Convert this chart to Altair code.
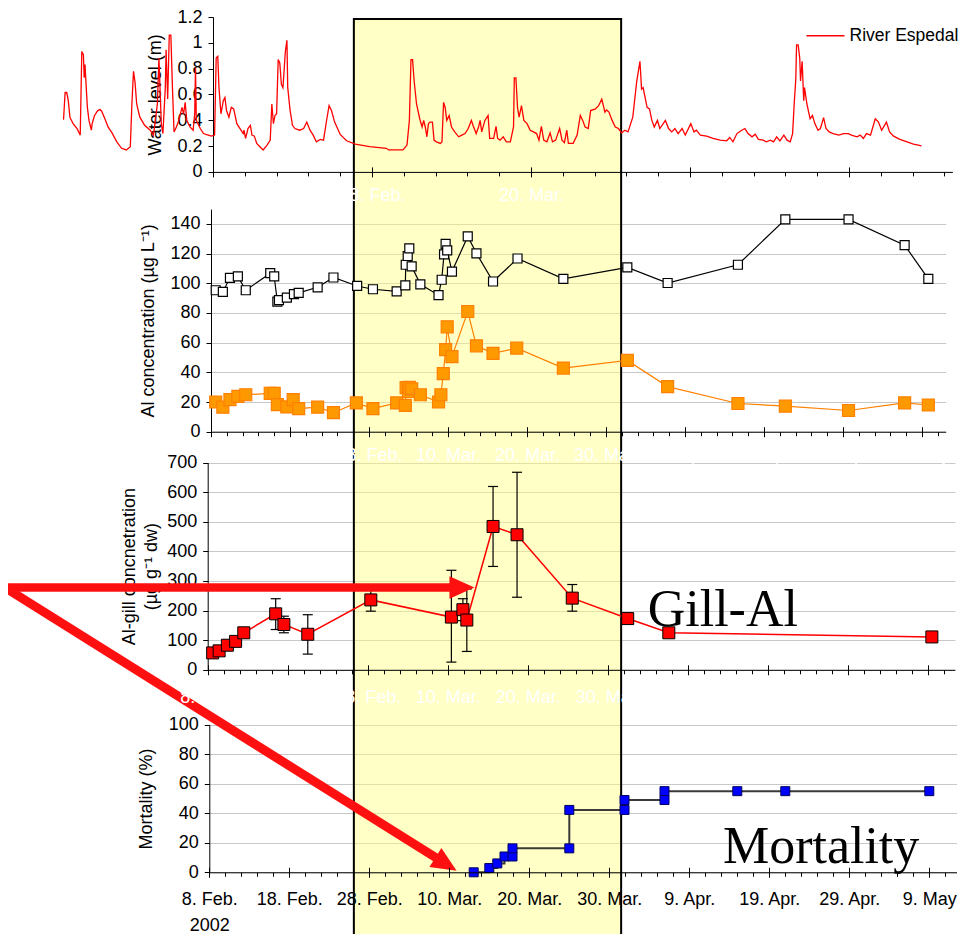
import altair as alt
import pandas as pd

BASE = pd.Timestamp("2002-02-08")
FONT = "Liberation Sans"
SERIF = "Liberation Serif"

# ---------------- data (days after 8 Feb 2002) ----------------
water_days = [
    -18.8, -18.6, -18.4, -18.2, -18.0, -17.6, -17.1, -16.7, -16.5, -16.3, -16.2, -16.1, -16.0, -15.8, -15.6, -15.3,
    -15.2, -14.9, -14.5, -14.2, -14.0, -13.6, -13.2, -12.7, -12.1, -11.5, -10.9, -10.4, -10.2, -10.0, -9.8, -9.6,
    -9.2, -8.6, -7.9, -7.5, -7.3, -7.0, -6.8, -6.5, -6.3, -6.0, -5.9, -5.7, -5.5, -5.3, -5.1, -4.9, -4.6, -4.3,
    -3.9, -3.7, -3.5, -3.3, -2.9, -2.5, -2.3, -2.2, -2.1, -1.6, -1.2, -0.6, -0.2, 0.2, 0.4, 0.6, 0.75, 1.0, 1.3,
    1.5, 1.7, 2.0, 2.3, 2.6, 3.0, 3.4, 3.8, 3.9, 4.1, 4.4, 4.7, 4.9, 5.2, 5.5, 5.9, 6.3, 6.8, 7.2, 7.4, 7.6, 7.8,
    8.0, 8.2, 8.4, 8.6, 8.8, 9.1, 9.3, 9.4, 9.7, 10.0, 10.3, 10.9, 11.4, 11.8, 12.2, 12.6, 13.0, 13.5, 13.9, 14.3,
    14.6, 14.9, 15.3,
    16.0, 16.8, 17.9, 19.7, 21.8, 22.1, 23.9, 24.4, 24.7, 24.9, 25.1, 25.3, 25.6, 26.0, 26.3, 26.5, 26.7, 26.9,
    27.1, 27.3, 27.6, 27.8, 28.1, 28.6, 28.8, 29.0, 29.2, 29.4, 29.7, 30.0, 30.4, 30.9, 31.3, 31.7, 32.1, 32.5,
    32.7, 33.1, 33.4, 33.6, 33.8, 34.2, 34.6, 34.8, 35.3, 35.6, 35.8, 36.1, 36.5, 36.9, 37.4, 37.8, 37.9, 38.1,
    38.3, 38.5, 38.8, 39.1, 39.5, 39.9, 40.3, 40.7, 41.0, 41.3, 41.6, 42.0, 42.4, 42.7, 43.1, 43.6, 43.9, 44.2,
    44.5, 44.7, 45.3, 45.8, 46.2, 46.5, 46.8, 47.2, 47.5, 48.1, 48.5, 48.9, 49.3, 49.5, 49.8, 50.2, 50.6, 51.0,
    51.4, 51.8, 52.2, 52.8,
    53.3, 53.7, 53.8, 53.9, 54.1, 54.3, 54.6, 54.9, 55.2, 55.5, 55.9, 56.2, 56.9, 57.3, 57.7, 58.1, 58.5, 59.0,
    59.4, 60.1, 60.5, 60.8, 61.3, 62.1, 62.9, 63.8, 64.6, 65.0, 65.4, 65.9, 66.5, 66.9, 67.3, 67.8, 68.2, 68.6,
    69.2, 69.6, 70.1, 70.5, 70.9, 71.3, 71.8, 72.2, 72.6, 72.9, 73.1, 73.3, 73.4, 73.6, 73.8, 73.9, 74.1, 74.3,
    74.4, 74.7, 75.1, 75.4, 75.7, 76.1, 76.4, 76.8, 77.1, 77.5, 78.0, 78.7, 79.3, 79.9, 80.3, 81.0, 81.4, 81.8,
    82.2, 82.7, 83.3, 83.7, 84.1, 84.7, 85.1, 85.6, 86.4, 87.3, 88.1, 88.7, 89.1]
water_level = [
    0.404, 0.615, 0.615, 0.552, 0.424, 0.374, 0.336, 0.285, 0.933, 0.908, 0.729, 0.831, 0.717, 0.50, 0.399, 0.323,
    0.374, 0.437, 0.475, 0.483, 0.47, 0.412, 0.348, 0.302, 0.233, 0.183, 0.17, 0.195, 0.526, 0.78, 0.691, 0.526,
    0.424, 0.361, 0.323, 0.285, 0.374, 0.526, 0.882, 0.374, 0.297, 0.653, 0.946, 0.564, 1.06, 1.06, 0.653, 0.31,
    0.348, 0.399, 0.50, 0.45, 0.539, 0.399, 0.348, 0.323, 0.45, 0.806, 0.399, 0.336, 0.297, 0.285, 0.277, 0.285,
    0.882, 0.895, 0.653, 0.45, 0.552, 0.577, 0.475, 0.424, 0.50, 0.488, 0.374, 0.336, 0.297, 0.323, 0.259, 0.336,
    0.361, 0.285, 0.277, 0.221, 0.195, 0.17, 0.208, 0.246, 0.526, 0.374, 0.437, 0.45, 0.87, 0.844, 0.679, 0.653,
    0.933, 1.02, 0.653, 0.475, 0.361, 0.336, 0.323, 0.336, 0.386, 0.323, 0.285, 0.233, 0.252, 0.246, 0.404, 0.513,
    0.475, 0.386,
    0.29, 0.241, 0.216, 0.195, 0.183, 0.17, 0.17, 0.208, 0.399, 0.87, 0.87, 0.704, 0.526, 0.412, 0.348, 0.399,
    0.348, 0.272, 0.374, 0.386, 0.386, 0.246, 0.233, 0.221, 0.233, 0.539, 0.50, 0.399, 0.437, 0.348, 0.31, 0.272,
    0.285, 0.297, 0.336, 0.399, 0.361, 0.297, 0.348, 0.399, 0.31, 0.399, 0.437, 0.259, 0.259, 0.353, 0.259, 0.246,
    0.272, 0.233, 0.233, 0.348, 0.729, 0.729, 0.50, 0.424, 0.513, 0.399, 0.374, 0.323, 0.31, 0.297, 0.246, 0.353,
    0.246, 0.233, 0.302, 0.233, 0.246, 0.336, 0.246, 0.226, 0.323, 0.221, 0.221, 0.285, 0.437, 0.399, 0.348, 0.336,
    0.475, 0.488, 0.513, 0.564, 0.463, 0.48, 0.463, 0.399, 0.348, 0.336, 0.302, 0.323, 0.31, 0.424,
    0.704, 0.857, 0.755, 0.641, 0.653, 0.59, 0.50, 0.488, 0.399, 0.348, 0.399, 0.336, 0.399, 0.336, 0.31, 0.336,
    0.297, 0.336, 0.285, 0.374, 0.31, 0.323, 0.285, 0.277, 0.259, 0.246, 0.241, 0.267, 0.233, 0.297, 0.323, 0.336,
    0.297, 0.272, 0.292, 0.252, 0.246, 0.233, 0.246, 0.233, 0.272, 0.241, 0.285, 0.246, 0.233, 0.297, 0.526, 0.717,
    0.984, 0.984, 0.882, 0.704, 0.857, 0.552, 0.653, 0.526, 0.412, 0.437, 0.374, 0.323, 0.336, 0.42, 0.336, 0.31,
    0.297, 0.285, 0.297, 0.297, 0.285, 0.272, 0.285, 0.259, 0.297, 0.285, 0.412, 0.386, 0.323, 0.386, 0.31, 0.277,
    0.252, 0.233, 0.216, 0.208, 0.201]

al_total_days = [0.6, 1.5, 2.4, 3.4, 4.4, 7.5, 8.0, 8.4, 8.6, 9.6, 10.5, 11.1, 13.5, 15.5, 18.5, 20.5, 23.5, 24.6,
                 24.65, 24.9, 25.1, 25.4, 26.5, 28.8, 29.2, 29.5, 29.7, 29.9, 30.5, 32.5, 33.6, 35.7, 38.8, 44.6,
                 52.7, 57.8, 66.7, 72.7, 80.7, 87.8, 90.8]
al_total = [95.3, 94.2, 103.7, 104.6, 95.3, 106.8, 104.6, 87.6, 88.7, 90.3, 92.7, 93.6, 97.3, 103.9, 98.2, 96.0,
            94.6, 98.6, 112.5, 118.4, 123.5, 111.4, 99.3, 92.0, 102.4, 119.5, 126.6, 122.2, 107.9, 131.6, 120.2,
            101.2, 116.7, 103.0, 110.7, 100.2, 112.5, 143.1, 143.1, 125.7, 103.0]
ali_days = [0.6, 1.5, 2.4, 3.4, 4.4, 7.5, 8.0, 8.4, 9.6, 10.4, 11.1, 13.5, 15.5, 18.4, 20.5, 23.5, 24.6, 24.7, 25.0,
            25.1, 25.4, 26.5, 28.8, 29.1, 29.4, 29.7, 29.9, 30.5, 32.5, 33.6, 35.7, 38.7, 44.6, 52.7, 57.8, 66.7,
            72.7, 80.7, 87.8, 90.8]
ali = [20.0, 16.5, 21.6, 23.8, 24.9, 25.8, 25.8, 18.3, 16.7, 21.6, 15.6, 16.5, 12.8, 19.4, 15.6, 19.4, 17.8, 29.7,
       27.1, 29.9, 28.9, 24.9, 20.0, 24.9, 39.2, 55.3, 70.7, 50.6, 81.0, 57.9, 52.8, 56.3, 42.9, 48.0, 30.4, 19.0,
       17.2, 14.3, 19.4, 18.0]

gill_days = [0.62, 1.43, 2.46, 3.49, 4.51, 8.50, 9.52, 12.51, 20.39, 30.46, 31.90, 32.39, 35.67, 38.67, 45.57,
             52.50, 57.64, 90.52]
gill_al = [57, 64, 83, 96, 125, 189, 153, 120, 236, 178, 203, 168, 484, 456, 242, 173, 125, 111]
gill_err_days = [8.50, 9.52, 12.51, 20.39, 30.46, 31.90, 32.39, 35.67, 38.67, 45.57]
gill_err_lo = [136, 125, 53, 198, 26, 166, 62, 349, 245, 198]
gill_err_hi = [240, 181, 186, 273, 336, 240, 273, 619, 667, 288]

mort_days = [33.05, 35.0, 36.0, 36.9, 37.9, 37.9, 45.0, 45.0, 51.9, 51.9, 56.9, 56.9, 66.0, 72.0, 90.0]
mortality = [0, 2.9, 6.0, 10.7, 10.7, 16.2, 16.2, 42.2, 42.2, 48.9, 48.9, 54.9, 54.9, 54.9, 54.9]

highlight_days = [18.07, 51.48]          # shaded period (26 Feb - 31 Mar)
annot_labels = ["Gill-Al", "Mortality"]
annot_days = [55.0, 64.2]
annot_vals = [149, 6.2]
arrow_h = dict(d0=-25.0, d1=30.6, v=278, head_d=31.78)
arrow_d = dict(d0=-25.2, v0=191.5, d1=28.49, v1=9.34, head_d=29.59, head_v=5.55, angle=32)

# ---------------- layout ----------------
W, H = 747, 917
P = {
    1: dict(xr=[4, 743.4], xd=[0, 93], yr=[154.9, 0], yd=[0, 1.2], yoff=-4, base=154.9),
    2: dict(xr=[2, 736.7], xd=[0, 93], yr=[414.7, 192.1], yd=[0, 150], yoff=-2, base=414.7),
    3: dict(xr=[-1.3, 745.9], xd=[0, 93.4], yr=[652.8, 445.5], yd=[0, 700], yoff=1.3, base=652.8),
    4: dict(xr=[0.3, 747.5], xd=[0, 93.4], yr=[855.3, 707.5], yd=[0, 100], yoff=-0.3, base=855.3),
}
RED = "#FF1010"
ARROW_HEAD = "M1,0L-1,-0.9L-1,0.9Z"
CAP = "M-1,0L1,0"
AL_SYMBOL = "M-2,0L-0.5,0M0.5,0L2,0M-0.5,-0.5L0.5,-0.5L0.5,0.5L-0.5,0.5Z"


def ts(days):
    return [BASE + pd.Timedelta(days=float(d)) for d in days]


def T(day):
    t = BASE + pd.Timedelta(days=float(day))
    return alt.DateTime(year=t.year, month=t.month, date=t.day, hours=t.hour, minutes=t.minute)


def xs(k):
    return alt.Scale(domain=[T(P[k]["xd"][0]), T(P[k]["xd"][1])], range=P[k]["xr"], nice=False)


def ys(k):
    return alt.Scale(domain=P[k]["yd"], range=P[k]["yr"], nice=False, zero=False)


def X(field, k, axis=None):
    if axis is None:
        return alt.X(field, scale=xs(k), axis=None)
    return alt.X(field, scale=xs(k), axis=axis)


def Y(field, k, axis=None):
    if axis is None:
        return alt.Y(field, scale=ys(k), axis=None)
    return alt.Y(field, scale=ys(k), axis=axis)


IS_FIRST = "(month(datum.value) == 1 && date(datum.value) == 8)"
LABEL_EXPR = "timeFormat(datum.value, '%-d. %b') + (month(datum.value) == 4 ? '' : '.')"
LABEL_EXPR2 = IS_FIRST + " ? '' : " + LABEL_EXPR
LABEL_EXPR4 = IS_FIRST + " ? ['8. Feb.', '2002'] : " + LABEL_EXPR


def main_xaxis(k, step, last, color, pad, expr):
    vals = list(range(0, last + 1, step))
    return alt.Axis(orient="bottom", offset=P[k]["base"] - H, values=[T(d) for d in vals], tickSize=5,
                    labelColor=color, labelPadding=pad, labelExpr=expr, labelFlush=False, labelOverlap=False,
                    labelFontSize=18, labelLineHeight=26, grid=False, title=None, zindex=1,
                    domainColor="black", tickColor="black")


def yaxis(k, vals, title, tx, grid, fmt=""):
    kw = dict(orient="left", offset=P[k]["yoff"], values=vals, tickSize=5, labelPadding=6, grid=grid,
              title=title, titleX=tx, titleY=(P[k]["yr"][0] + P[k]["yr"][1]) / 2, titleBaseline="middle",
              titleLineHeight=22, domainColor="black", tickColor="black", labelFontSize=18)
    if fmt:
        kw["format"] = fmt
    return alt.Axis(**kw)


def tick_layers(k, minor_step, major_step):
    last = int(P[k]["xd"][1])
    minor_vals = list(range(0, last + 1, minor_step))
    major_vals = list(range(0, last + 1, major_step))
    df = pd.DataFrame({"t": ts(minor_vals)})
    minor = alt.Chart(df).mark_point(opacity=0).encode(
        x=X("t:T", k, alt.Axis(orient="bottom", offset=P[k]["base"] - H, values=[T(d) for d in minor_vals],
                               tickSize=4, labels=False, domain=False, grid=False, title=None, zindex=1,
                               tickColor="black")))
    up = alt.Chart(df).mark_point(opacity=0).encode(
        x=X("t:T", k, alt.Axis(orient="top", offset=-P[k]["base"], values=[T(d) for d in major_vals],
                               tickSize=5, labels=False, domain=False, grid=False, title=None, zindex=1,
                               tickColor="black")))
    return [minor, up]


layers = []

# ---------------- highlight band ----------------
band_df = pd.DataFrame({"t0": ts([highlight_days[0]]), "t1": ts([highlight_days[1]])})
layers.append(alt.Chart(band_df).mark_rect(fill="#FFFF80", fillOpacity=0.45, stroke="black", strokeWidth=2).encode(
    x=X("t0:T", 4), x2="t1:T", y=alt.value(2), y2=alt.value(H + 40)))

# ---------------- panel 1: water level ----------------
water_df = pd.DataFrame({"t": ts(water_days), "v": water_level, "series": "River Espedal"})
LEG1 = alt.Legend(title=None, orient="none", legendX=606, legendY=8.2, symbolType="M-2,0L2,0", symbolSize=361,
                  symbolStrokeWidth=1.5, labelOffset=13.5, padding=0, labelFontSize=17.5, labelFont=FONT,
                  labelColor="black")
layers.append(alt.Chart(water_df).mark_line(strokeWidth=1.3).encode(
    x=X("t:T", 1, main_xaxis(1, 20, 80, "white", 9.6, LABEL_EXPR)),
    y=Y("v:Q", 1, yaxis(1, [0, 0.2, 0.4, 0.6, 0.8, 1.0, 1.2], "Water level (m)", -58, False, "~g")),
    stroke=alt.Stroke("series:N", scale=alt.Scale(domain=["River Espedal"], range=["#FF0000"]), legend=LEG1)))
layers += tick_layers(1, 4, 20)

# ---------------- panel 2: Al concentration ----------------
al_df = pd.concat([
    pd.DataFrame({"t": ts(al_total_days), "v": al_total, "series": "Total Al", "idx": range(len(al_total))}),
    pd.DataFrame({"t": ts(ali_days), "v": ali, "series": "Ali", "idx": range(len(ali))}),
], ignore_index=True)
SER = ["Total Al", "Ali"]
stroke_sc = alt.Scale(domain=SER, range=["#000000", "#FF8000"])
fill_sc = alt.Scale(domain=SER, range=["#FFFFFF", "#FF9900"])
LEG2 = alt.Legend(title=None, orient="none", legendX=580, legendY=270.7, symbolType=AL_SYMBOL, symbolSize=400,
                  symbolStrokeWidth=1.2, labelOffset=14, rowPadding=14.5, padding=0, labelFontSize=18,
                  labelFont=FONT, labelColor="black")
layers.append(alt.Chart(al_df).mark_line(strokeWidth=1.2).encode(
    x=X("t:T", 2, main_xaxis(2, 10, 90, "white", 9.6, LABEL_EXPR2)),
    y=Y("v:Q", 2, yaxis(2, list(range(0, 141, 20)), "Al concentration (µg L⁻¹)", -63, True)),
    stroke=alt.Stroke("series:N", scale=stroke_sc, legend=None),
    order="idx:Q"))
layers.append(alt.Chart(al_df).mark_point(shape="square", filled=True, opacity=1, strokeWidth=1.2).encode(
    x=X("t:T", 2), y=Y("v:Q", 2),
    stroke=alt.Stroke("series:N", scale=stroke_sc, legend=LEG2),
    fill=alt.Fill("series:N", scale=fill_sc, legend=LEG2),
    size=alt.Size("series:N", scale=alt.Scale(domain=SER, range=[81, 144]), legend=None)))
layers += tick_layers(2, 2, 10)

# ---------------- panel 3: gill Al ----------------
gill_df = pd.DataFrame({"t": ts(gill_days), "v": gill_al})
err_df = pd.DataFrame({"t": ts(gill_err_days), "lo": gill_err_lo, "hi": gill_err_hi})
cap_df = pd.DataFrame({"t": ts(gill_err_days) * 2, "c": gill_err_lo + gill_err_hi})
layers.append(alt.Chart(gill_df).mark_line(color="#FF0000", strokeWidth=1.5).encode(
    x=X("t:T", 3, main_xaxis(3, 10, 90, "white", 14, LABEL_EXPR)),
    y=Y("v:Q", 3, yaxis(3, list(range(0, 701, 100)), ["Al-gill concnetration", "(µg g⁻¹ dw)"], -78, True))))
layers.append(alt.Chart(err_df).mark_rule(color="black", strokeWidth=1.2).encode(
    x=X("t:T", 3), y=Y("lo:Q", 3), y2="hi:Q"))
layers.append(alt.Chart(cap_df).mark_point(shape=CAP, size=100, filled=False, stroke="black", strokeWidth=1.2,
                                           opacity=1).encode(x=X("t:T", 3), y=Y("c:Q", 3)))
layers.append(alt.Chart(gill_df).mark_point(shape="square", filled=True, size=144, fill="#FF0000",
                                            stroke="black", strokeWidth=1, opacity=1).encode(
    x=X("t:T", 3), y=Y("v:Q", 3)))
ah_df = pd.DataFrame({"t0": ts([arrow_h["d0"]]), "t1": ts([arrow_h["d1"]]), "v0": [arrow_h["v"]],
                      "v1": [arrow_h["v"]], "th": ts([arrow_h["head_d"]])})
layers.append(alt.Chart(ah_df).mark_rule(color=RED, strokeWidth=8.5, strokeCap="butt").encode(
    x=X("t0:T", 3), x2="t1:T", y=Y("v0:Q", 3), y2="v1:Q"))
layers.append(alt.Chart(ah_df).mark_point(shape=ARROW_HEAD, size=625, filled=True, fill=RED, strokeWidth=0,
                                          opacity=1, angle=0).encode(x=X("th:T", 3), y=Y("v0:Q", 3)))
t3_df = pd.DataFrame({"t": ts([annot_days[0]]), "v": [annot_vals[0]], "label": [annot_labels[0]]})
layers.append(alt.Chart(t3_df).mark_text(font=SERIF, fontSize=52, align="left", baseline="alphabetic",
                                         color="black").encode(x=X("t:T", 3), y=Y("v:Q", 3), text="label:N"))
layers += tick_layers(3, 2, 10)

# ---------------- panel 4: mortality ----------------
mort_df = pd.DataFrame({"t": ts(mort_days), "v": mortality, "idx": range(len(mortality))})
layers.append(alt.Chart(mort_df).mark_line(interpolate="step-after", color="#3A3A3A", strokeWidth=2).encode(
    x=X("t:T", 4, main_xaxis(4, 10, 90, "black", 13.5, LABEL_EXPR4)),
    y=Y("v:Q", 4, yaxis(4, list(range(0, 101, 20)), "Mortality (%)", -62.6, True)),
    order="idx:Q"))
layers.append(alt.Chart(mort_df).mark_point(shape="square", filled=True, size=81, fill="#0000FF",
                                            stroke="#000060", strokeWidth=1, opacity=1).encode(
    x=X("t:T", 4), y=Y("v:Q", 4)))
ad_df = pd.DataFrame({"t0": ts([arrow_d["d0"]]), "t1": ts([arrow_d["d1"]]), "v0": [arrow_d["v0"]],
                      "v1": [arrow_d["v1"]], "th": ts([arrow_d["head_d"]]), "vh": [arrow_d["head_v"]]})
layers.append(alt.Chart(ad_df).mark_rule(color=RED, strokeWidth=9, strokeCap="butt").encode(
    x=X("t0:T", 4), x2="t1:T", y=Y("v0:Q", 4), y2="v1:Q"))
layers.append(alt.Chart(ad_df).mark_point(shape=ARROW_HEAD, size=625, filled=True, fill=RED, strokeWidth=0,
                                          opacity=1, angle=arrow_d["angle"]).encode(
    x=X("th:T", 4), y=Y("vh:Q", 4)))
t4_df = pd.DataFrame({"t": ts([annot_days[1]]), "v": [annot_vals[1]], "label": [annot_labels[1]]})
layers.append(alt.Chart(t4_df).mark_text(font=SERIF, fontSize=52, align="left", baseline="alphabetic",
                                         color="black").encode(x=X("t:T", 4), y=Y("v:Q", 4), text="label:N"))
layers += tick_layers(4, 2, 10)

chart = alt.layer(*layers).resolve_scale(
    x="independent", y="independent", stroke="independent", fill="independent", size="independent"
).properties(
    width=W, height=H, autosize=alt.AutoSizeParams(type="none"),
    padding={"left": 201, "top": 9, "right": 3, "bottom": 0}
).configure_view(strokeWidth=0).configure_axis(
    labelFont=FONT, titleFont=FONT, labelFontSize=18, titleFontSize=18, titleFontWeight="normal",
    labelColor="black", titleColor="black", domainColor="black", tickColor="black",
    gridColor="#C8C8C8", gridWidth=1
).configure_legend(labelFont=FONT)

chart.save("out.html", embed_options={"renderer": "svg", "actions": False})
